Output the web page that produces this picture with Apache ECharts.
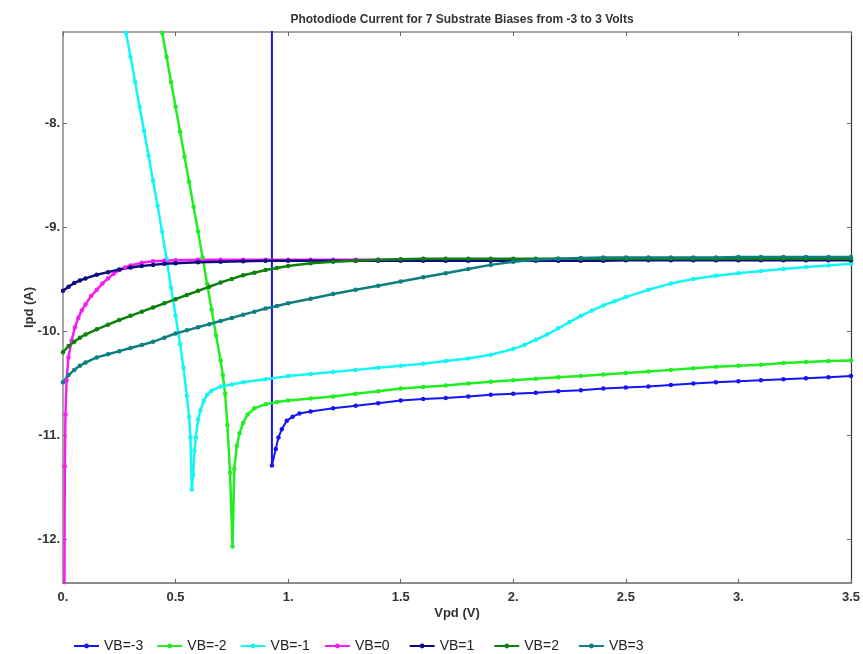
<!DOCTYPE html>
<html>
<head>
<meta charset="utf-8">
<script src="https://cdn.jsdelivr.net/npm/echarts@6/dist/echarts.min.js"></script>
<style>
  html, body { margin: 0; padding: 0; background: #fff; }
  #chart { width: 863px; height: 654px; }
</style>
</head>
<body>
<div id="chart"></div>
<script>
// substrate biases, one curve each
const seriesNames = ['VB=-3', 'VB=-2', 'VB=-1', 'VB=0', 'VB=1', 'VB=2', 'VB=3']
const seriesColors = ['#1515f5', '#1fef1f', '#14f5f5', '#f51df5', '#0c0c80', '#0d800d', '#0e7f7f']
const yTickValues = [-12, -11, -10, -9, -8]

// [Vpd, log10 Ipd] pairs
const vbM3 = [
  [0.928, -6.8], [0.928, -11.29], [0.945, -11.13], [0.957, -11.02], [0.972, -10.94],
  [0.994, -10.86], [1.02, -10.82], [1.05, -10.79], [1.1, -10.77], [1.2, -10.74],
  [1.3, -10.715], [1.4, -10.69], [1.5, -10.665], [1.6, -10.65], [1.7, -10.64],
  [1.8, -10.625], [1.9, -10.61], [2.0, -10.6], [2.1, -10.59], [2.2, -10.575],
  [2.3, -10.565], [2.4, -10.55], [2.5, -10.54], [2.6, -10.53], [2.7, -10.515],
  [2.8, -10.5], [2.9, -10.49], [3.0, -10.48], [3.1, -10.47], [3.2, -10.46],
  [3.3, -10.45], [3.4, -10.44], [3.5, -10.43]
]
const vbM2 = [
  [0.425, -6.95], [0.441, -7.13], [0.46, -7.36], [0.48, -7.6], [0.5, -7.84],
  [0.52, -8.08], [0.54, -8.32], [0.56, -8.56], [0.58, -8.8], [0.6, -9.04],
  [0.62, -9.29], [0.64, -9.54], [0.66, -9.79], [0.68, -10.04], [0.7, -10.28],
  [0.71, -10.42], [0.72, -10.6], [0.73, -10.9], [0.742, -11.36], [0.753, -12.07],
  [0.761, -11.32], [0.772, -11.1], [0.784, -10.98], [0.8, -10.88], [0.82, -10.8],
  [0.85, -10.74], [0.9, -10.7], [0.95, -10.68], [1.0, -10.665], [1.1, -10.645],
  [1.2, -10.625], [1.3, -10.6], [1.4, -10.575], [1.5, -10.55], [1.6, -10.535],
  [1.7, -10.52], [1.8, -10.5], [1.9, -10.485], [2.0, -10.47], [2.1, -10.455],
  [2.2, -10.44], [2.3, -10.43], [2.4, -10.415], [2.5, -10.4], [2.6, -10.385],
  [2.7, -10.37], [2.8, -10.355], [2.9, -10.34], [3.0, -10.33], [3.1, -10.32],
  [3.2, -10.305], [3.3, -10.295], [3.4, -10.285], [3.5, -10.28]
]
const vbM1 = [
  [0.265, -6.95], [0.28, -7.13], [0.3, -7.36], [0.32, -7.6], [0.34, -7.84],
  [0.36, -8.07], [0.38, -8.31], [0.4, -8.55], [0.42, -8.79], [0.44, -9.04],
  [0.46, -9.3], [0.48, -9.58], [0.5, -9.85], [0.52, -10.12], [0.535, -10.35],
  [0.55, -10.62], [0.56, -10.82], [0.566, -11.02], [0.572, -11.52], [0.578, -11.38],
  [0.584, -11.15], [0.59, -11.02], [0.6, -10.85], [0.61, -10.76], [0.625, -10.67],
  [0.64, -10.61], [0.66, -10.57], [0.7, -10.53], [0.75, -10.51], [0.8, -10.49],
  [0.9, -10.46], [1.0, -10.43], [1.1, -10.41], [1.2, -10.39], [1.3, -10.37],
  [1.4, -10.35], [1.5, -10.33], [1.6, -10.31], [1.7, -10.285], [1.8, -10.26],
  [1.9, -10.225], [2.0, -10.17], [2.05, -10.13], [2.1, -10.08], [2.15, -10.03],
  [2.2, -9.97], [2.25, -9.91], [2.3, -9.85], [2.35, -9.8], [2.4, -9.75],
  [2.45, -9.71], [2.5, -9.67], [2.6, -9.6], [2.7, -9.54], [2.8, -9.495],
  [2.9, -9.465], [3.0, -9.44], [3.1, -9.42], [3.2, -9.4], [3.3, -9.38],
  [3.4, -9.365], [3.5, -9.35]
]
const vb0 = [
  [0.004, -14], [0.008, -11.3], [0.011, -10.8], [0.016, -10.47], [0.024, -10.25],
  [0.038, -10.09], [0.053, -9.96], [0.068, -9.87], [0.083, -9.8], [0.1, -9.74],
  [0.125, -9.66], [0.15, -9.6], [0.175, -9.54], [0.2, -9.49], [0.225, -9.445],
  [0.25, -9.41], [0.275, -9.385], [0.3, -9.365], [0.35, -9.34], [0.4, -9.325],
  [0.45, -9.32], [0.5, -9.315], [0.6, -9.31], [0.7, -9.31], [0.8, -9.31],
  [0.9, -9.31], [1.0, -9.31], [1.1, -9.31], [1.2, -9.31], [1.3, -9.31],
  [1.4, -9.31], [1.5, -9.31], [1.6, -9.31], [1.7, -9.31], [1.8, -9.31],
  [1.9, -9.31], [2.0, -9.31], [2.1, -9.31], [2.2, -9.31], [2.3, -9.31],
  [2.4, -9.31], [2.5, -9.31], [2.6, -9.31], [2.7, -9.31], [2.8, -9.31],
  [2.9, -9.31], [3.0, -9.31], [3.1, -9.31], [3.2, -9.31], [3.3, -9.31],
  [3.4, -9.31], [3.5, -9.31]
]
const vb1 = [
  [0, -9.61], [0.025, -9.57], [0.05, -9.535], [0.075, -9.51], [0.1, -9.49],
  [0.15, -9.455], [0.2, -9.43], [0.25, -9.405], [0.3, -9.385], [0.35, -9.37],
  [0.4, -9.36], [0.45, -9.35], [0.5, -9.345], [0.6, -9.335], [0.7, -9.33],
  [0.8, -9.325], [0.9, -9.32], [1.0, -9.32], [1.1, -9.32], [1.2, -9.32],
  [1.3, -9.32], [1.4, -9.32], [1.5, -9.32], [1.6, -9.32], [1.7, -9.32],
  [1.8, -9.32], [1.9, -9.32], [2.0, -9.32], [2.1, -9.32], [2.2, -9.32],
  [2.3, -9.32], [2.4, -9.32], [2.5, -9.315], [2.6, -9.315], [2.7, -9.315],
  [2.8, -9.315], [2.9, -9.315], [3.0, -9.315], [3.1, -9.315], [3.2, -9.315],
  [3.3, -9.315], [3.4, -9.315], [3.5, -9.315]
]
const vb2 = [
  [0, -10.2], [0.025, -10.14], [0.05, -10.1], [0.075, -10.06], [0.1, -10.03],
  [0.15, -9.98], [0.2, -9.935], [0.25, -9.89], [0.3, -9.85], [0.35, -9.81],
  [0.4, -9.77], [0.45, -9.73], [0.5, -9.69], [0.55, -9.65], [0.6, -9.61],
  [0.65, -9.57], [0.7, -9.53], [0.75, -9.495], [0.8, -9.46], [0.85, -9.435],
  [0.9, -9.41], [0.95, -9.39], [1.0, -9.37], [1.1, -9.345], [1.2, -9.33],
  [1.3, -9.32], [1.4, -9.31], [1.5, -9.305], [1.6, -9.3], [1.7, -9.3],
  [1.8, -9.3], [1.9, -9.3], [2.0, -9.3], [2.1, -9.3], [2.2, -9.3],
  [2.3, -9.3], [2.4, -9.3], [2.5, -9.3], [2.6, -9.3], [2.7, -9.3],
  [2.8, -9.3], [2.9, -9.3], [3.0, -9.3], [3.1, -9.3], [3.2, -9.3],
  [3.3, -9.3], [3.4, -9.3], [3.5, -9.3]
]
const vb3 = [
  [0, -10.49], [0.025, -10.42], [0.05, -10.37], [0.075, -10.33], [0.1, -10.3],
  [0.15, -10.25], [0.2, -10.22], [0.25, -10.19], [0.3, -10.16], [0.35, -10.13],
  [0.4, -10.1], [0.45, -10.06], [0.5, -10.02], [0.55, -9.99], [0.6, -9.96],
  [0.65, -9.93], [0.7, -9.9], [0.75, -9.87], [0.8, -9.84], [0.85, -9.81],
  [0.9, -9.78], [0.95, -9.755], [1.0, -9.73], [1.1, -9.685], [1.2, -9.64],
  [1.3, -9.6], [1.4, -9.56], [1.5, -9.52], [1.6, -9.48], [1.7, -9.44],
  [1.8, -9.4], [1.9, -9.36], [2.0, -9.33], [2.1, -9.31], [2.2, -9.3],
  [2.3, -9.295], [2.4, -9.29], [2.5, -9.29], [2.6, -9.29], [2.7, -9.29],
  [2.8, -9.29], [2.9, -9.29], [3.0, -9.285], [3.1, -9.285], [3.2, -9.285],
  [3.3, -9.285], [3.4, -9.285], [3.5, -9.285]
]
const seriesData = [vbM3, vbM2, vbM1, vb0, vb1, vb2, vb3]

const fontFamily = '"Liberation Sans", Arial, sans-serif'
const axisColor = '#666'
const labelColor = '#333'

const fmtTick = v => (Number.isInteger(v) ? v + '.' : String(v))

const chart = echarts.init(document.getElementById('chart'), null, { renderer: 'canvas' })

// legend entries sit on a fixed ~84px pitch; negative names are wider, so two groups
const legendBase = {
  top: 639,
  padding: 0,
  itemWidth: 25,
  itemHeight: 6,
  textStyle: { fontFamily, fontSize: 14, color: '#222' }
}

const option = {
  animation: false,
  backgroundColor: '#fff',
  title: {
    text: 'Photodiode Current for 7 Substrate Biases from -3 to 3 Volts',
    left: 457,
    textAlign: 'center',
    top: 9,
    textStyle: { fontFamily, fontSize: 12, fontWeight: 'bold', color: labelColor }
  },
  legend: [
    Object.assign({}, legendBase, { data: seriesNames.slice(0, 3), left: 73, itemGap: 13 }),
    Object.assign({}, legendBase, { data: seriesNames.slice(3), left: 324, itemGap: 19 })
  ],
  grid: { left: 63, right: 12, top: 32, bottom: 71 },
  xAxis: [
    {
      type: 'value',
      min: 0,
      max: 3.5,
      interval: 0.5,
      name: 'Vpd (V)',
      nameLocation: 'middle',
      nameGap: 24,
      nameMoveOverlap: false,
      nameTextStyle: { fontFamily, fontSize: 13, fontWeight: 'bold', color: labelColor },
      axisLine: { show: true, lineStyle: { color: axisColor, width: 1.5 } },
      axisTick: { show: true, inside: true, length: 4, lineStyle: { color: axisColor } },
      axisLabel: {
        margin: 8,
        fontFamily, fontSize: 13, fontWeight: 'bold', color: labelColor,
        formatter: fmtTick
      },
      splitLine: { show: false }
    },
    {
      type: 'value',
      position: 'top',
      min: 0,
      max: 3.5,
      interval: 0.5,
      axisLine: { show: true, onZero: false, lineStyle: { color: '#888', width: 1.5 } },
      axisTick: { show: true, inside: true, length: 4, lineStyle: { color: axisColor } },
      axisLabel: { show: false },
      splitLine: { show: false }
    }
  ],
  yAxis: [
    {
      type: 'value',
      min: -12.42,
      max: -7.12,
      name: 'Ipd (A)',
      nameLocation: 'middle',
      nameGap: 27,
      nameMoveOverlap: false,
      nameTextStyle: { fontFamily, fontSize: 13, fontWeight: 'bold', color: labelColor },
      axisLine: { show: true, onZero: false, lineStyle: { color: '#888', width: 1.5 } },
      axisTick: { show: true, inside: true, length: 4, customValues: yTickValues, lineStyle: { color: axisColor } },
      axisLabel: {
        margin: 3,
        customValues: yTickValues,
        fontFamily, fontSize: 13, fontWeight: 'bold', color: labelColor,
        formatter: fmtTick
      },
      splitLine: { show: false }
    },
    {
      type: 'value',
      position: 'right',
      min: -12.42,
      max: -7.12,
      axisLine: { show: true, onZero: false, lineStyle: { color: '#333', width: 1.2 } },
      axisTick: { show: true, inside: true, length: 4, customValues: yTickValues, lineStyle: { color: axisColor } },
      axisLabel: { show: false },
      splitLine: { show: false }
    }
  ],
  series: seriesNames.map((name, i) => ({
    name,
    type: 'line',
    data: seriesData[i],
    color: seriesColors[i],
    symbol: 'circle',
    symbolSize: 4.5,
    showSymbol: true,
    clip: true,
    lineStyle: { width: i === 0 ? 2 : 2.5, color: seriesColors[i] },
    itemStyle: { color: seriesColors[i] }
  }))
}

chart.setOption(option)
</script>
</body>
</html>
